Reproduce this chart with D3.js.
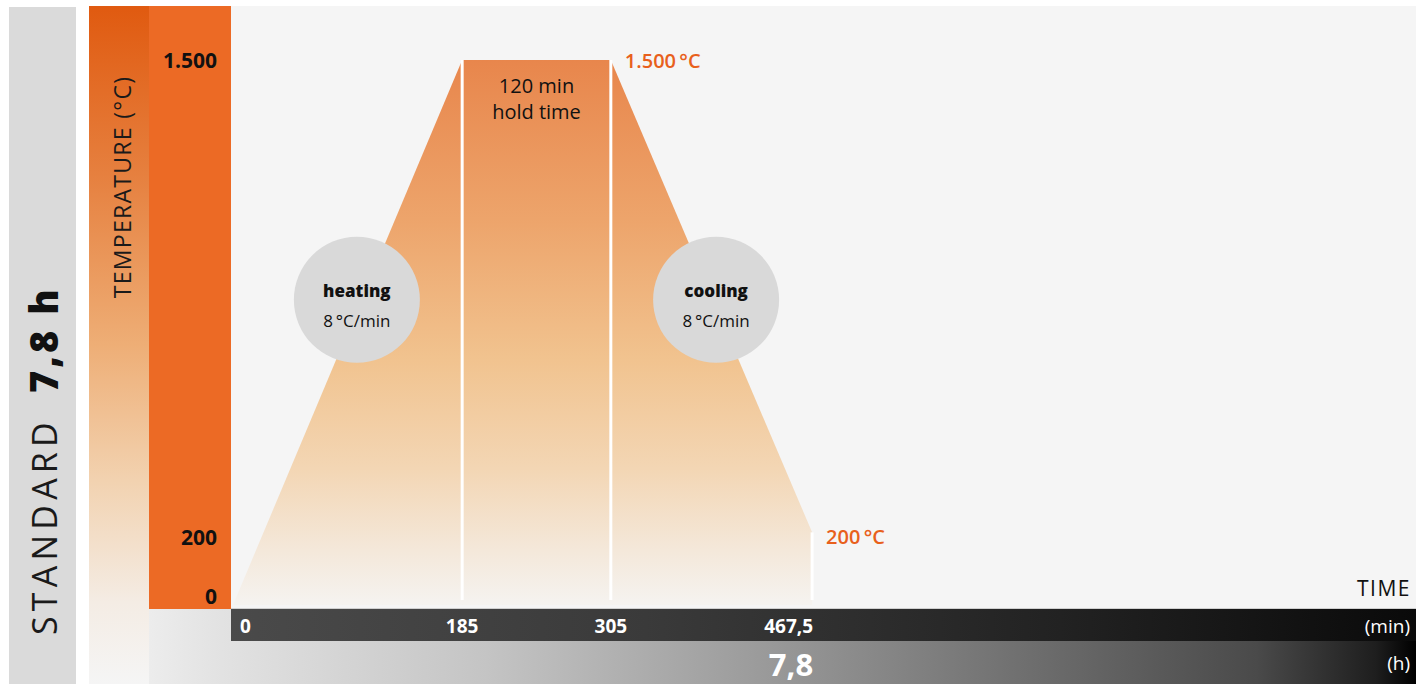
<!DOCTYPE html>
<html>
<head>
<meta charset="utf-8">
<script src="https://cdn.jsdelivr.net/npm/d3@7"></script>
<style>
  html, body { margin: 0; padding: 0; background: #ffffff; }
  svg { display: block; }
  text { font-family: "Open Sans", "Noto Sans", sans-serif; }
</style>
</head>
<body>
<svg id="chart" width="1426" height="684"></svg>
<script>
// Firing profile: time (min) and temperature (°C) at each corner of the curve
const profileTime = [0, 185, 305, 467.5, 467.5];
const profileTemp = [0, 1500, 1500, 200, 0];

// Phase boundaries marked with white guide lines
const markerTime = [185, 305, 467.5];
const markerTop = [1500, 1500, 200];

// Axis ticks
const tempTicks = [0, 200, 1500];
const tempTickLabels = ["0", "200", "1.500"];
const timeTicks = [0, 185, 305, 467.5];
const timeTickLabels = ["0", "185", "305", "467,5"];
const totalHours = "7,8";

// Annotated values
const peakLabel = "1.500\u2009°C";
const endLabel = "200\u2009°C";
const holdMinutes = 120;
const rampLabels = [
  { name: "heating", rate: "8\u2009°C/min", t: 100, temp: 840 },
  { name: "cooling", rate: "8\u2009°C/min", t: 390, temp: 840 }
];

const svg = d3.select("#chart");
const W = 1426, H = 684;
const plot = { left: 231, right: 1416, top: 6, bottom: 608 };

const x = d3.scaleLinear().domain([0, 955]).range([233, 1416]);
const y = d3.scaleLinear().domain([0, 1500]).range([605, 60]);

const defs = svg.append("defs");

function linearGrad(id, x1, y1, x2, y2, stops) {
  const g = defs.append("linearGradient").attr("id", id)
    .attr("gradientUnits", "userSpaceOnUse")
    .attr("x1", x1).attr("y1", y1).attr("x2", x2).attr("y2", y2);
  stops.forEach(s => g.append("stop").attr("offset", s[0]).attr("stop-color", s[1]));
}

linearGrad("stripGrad", 0, 6, 0, 684, [
  [0, "#e05a10"], [0.25, "#e6803f"], [0.5, "#eeae76"], [0.7, "#f2d2b0"],
  [0.88, "#f4ece4"], [1, "#f5f5f5"]
]);
linearGrad("curveGrad", 0, y(1500), 0, y(0), [
  [0, "#e8864c"], [0.3, "#eda56c"], [0.55, "#f1c38f"], [0.75, "#f3d6b4"],
  [0.9, "#f4e8da"], [1, "#f5f3f0"]
]);
linearGrad("hourGrad", 89, 0, 1416, 0, [
  [0, "#f5f5f5"], [0.1, "#e2e2e2"], [0.3, "#c4c4c4"], [0.5, "#9c9c9c"],
  [0.7, "#707070"], [0.88, "#4a4a4a"], [0.97, "#1e1e1e"], [1, "#000000"]
]);
linearGrad("minGrad", 231, 0, 1416, 0, [
  [0, "#4a4a4a"], [0.35, "#3a3a3a"], [0.7, "#222222"], [1, "#0a0a0a"]
]);

// Left title panel
svg.append("rect").attr("x", 9).attr("y", 7).attr("width", 67).attr("height", H - 7)
  .attr("fill", "#dadada");

svg.append("text")
  .attr("transform", "translate(57,635) rotate(-90)")
  .attr("fill", "#1a1a1a")
  .attr("font-size", 34).attr("font-weight", 400).attr("letter-spacing", 5.2)
  .text("STANDARD");
svg.append("text")
  .attr("transform", "translate(58,393) rotate(-90)")
  .attr("fill", "#111")
  .attr("font-size", 38).attr("font-weight", 800).attr("letter-spacing", 3)
  .text("7,8 h");

// Temperature strip with gradient and axis panel
svg.append("rect").attr("x", 89).attr("y", 6).attr("width", 60).attr("height", H - 6)
  .attr("fill", "url(#stripGrad)");
svg.append("rect").attr("x", 149).attr("y", 609).attr("width", 1416 - 149).attr("height", H - 609)
  .attr("fill", "url(#hourGrad)");
svg.append("rect").attr("x", 149).attr("y", 6).attr("width", 82).attr("height", 603)
  .attr("fill", "#ec6a25");

svg.append("text")
  .attr("transform", "translate(131,187) rotate(-90)")
  .attr("text-anchor", "middle")
  .attr("font-size", 23).attr("letter-spacing", 1.3)
  .attr("fill", "#1a1a1a")
  .text("TEMPERATURE (°C)");

// Plot background
svg.append("rect").attr("x", plot.left).attr("y", plot.top)
  .attr("width", plot.right - plot.left).attr("height", plot.bottom - plot.top)
  .attr("fill", "#f5f5f5");

// Temperature tick labels
svg.append("g").selectAll("text").data(tempTicks).join("text")
  .attr("x", 217)
  .attr("y", d => Math.min(y(d), 596))
  .attr("dy", d => d === 200 ? "0.6em" : "0.38em")
  .attr("text-anchor", "end")
  .attr("font-size", 21).attr("font-weight", 700)
  .attr("fill", "#111")
  .text((d, i) => tempTickLabels[i]);

// Temperature profile area
const area = d3.line().x(d => x(d[0])).y(d => y(d[1]));
svg.append("path")
  .attr("d", area(profileTime.map((t, i) => [t, profileTemp[i]])) + "Z")
  .attr("fill", "url(#curveGrad)");

// Phase guide lines
svg.append("g").selectAll("line").data(markerTime).join("line")
  .attr("x1", d => x(d)).attr("x2", d => x(d))
  .attr("y1", (d, i) => y(markerTop[i]))
  .attr("y2", 600)
  .attr("stroke", "#ffffff").attr("stroke-width", 3);

// Hold label
const holdMid = (markerTime[0] + markerTime[1]) / 2;
svg.append("text").attr("x", x(holdMid)).attr("y", y(1500) + 33)
  .attr("text-anchor", "middle").attr("font-size", 20).attr("fill", "#111")
  .text(holdMinutes + " min");
svg.append("text").attr("x", x(holdMid)).attr("y", y(1500) + 59)
  .attr("text-anchor", "middle").attr("font-size", 20).attr("fill", "#111")
  .text("hold time");

// Peak and end temperature labels
svg.append("text").attr("x", x(305) + 14).attr("y", y(1500) + 1).attr("dy", "0.35em")
  .attr("font-size", 20).attr("font-weight", 600).attr("fill", "#e8601c")
  .text(peakLabel);
svg.append("text").attr("x", x(467.5) + 14).attr("y", y(200) + 5).attr("dy", "0.35em")
  .attr("font-size", 20).attr("font-weight", 600).attr("fill", "#e8601c")
  .text(endLabel);

// Ramp rate bubbles
const bubbles = svg.append("g").selectAll("g").data(rampLabels).join("g")
  .attr("transform", d => `translate(${x(d.t)},${y(d.temp)})`);
bubbles.append("circle").attr("r", 63).attr("fill", "#d9d9d9");
bubbles.append("text").attr("y", -9).attr("dy", "0.35em").attr("text-anchor", "middle")
  .attr("font-size", 17).attr("font-weight", 800).attr("fill", "#111")
  .text(d => d.name);
bubbles.append("text").attr("y", 21).attr("dy", "0.35em").attr("text-anchor", "middle")
  .attr("font-size", 17).attr("fill", "#111")
  .text(d => d.rate);

// TIME axis title
svg.append("text").attr("x", 1411).attr("y", 589).attr("dy", "0.35em")
  .attr("text-anchor", "end").attr("font-size", 21).attr("letter-spacing", 1.5)
  .attr("fill", "#111").text("TIME");

// Minutes band
svg.append("rect").attr("x", 231).attr("y", 609).attr("width", 1416 - 231).attr("height", 32)
  .attr("fill", "url(#minGrad)");
svg.append("line").attr("x1", 231).attr("x2", 1416).attr("y1", 608.5).attr("y2", 608.5)
  .attr("stroke", "#cfcfcf").attr("stroke-width", 1);

const anchorFor = i => i === 0 ? "start" : (i === timeTicks.length - 1 ? "end" : "middle");
svg.append("g").selectAll("text").data(timeTicks).join("text")
  .attr("x", (d, i) => i === 0 ? x(d) + 7 : (i === timeTicks.length - 1 ? x(d) + 1 : x(d)))
  .attr("y", 626).attr("dy", "0.35em")
  .attr("text-anchor", (d, i) => anchorFor(i))
  .attr("font-size", 19).attr("font-weight", 700).attr("fill", "#ffffff")
  .text((d, i) => timeTickLabels[i]);
svg.append("text").attr("x", 1410).attr("y", 626).attr("dy", "0.35em")
  .attr("text-anchor", "end").attr("font-size", 19).attr("fill", "#ffffff").text("(min)");

// Hours band labels
svg.append("text").attr("x", x(467.5) + 1).attr("y", 665).attr("dy", "0.35em")
  .attr("text-anchor", "end").attr("font-size", 31).attr("font-weight", 700)
  .attr("fill", "#ffffff").text(totalHours);
svg.append("text").attr("x", 1410).attr("y", 663).attr("dy", "0.35em")
  .attr("text-anchor", "end").attr("font-size", 19).attr("fill", "#ffffff").text("(h)");
</script>
</body>
</html>
